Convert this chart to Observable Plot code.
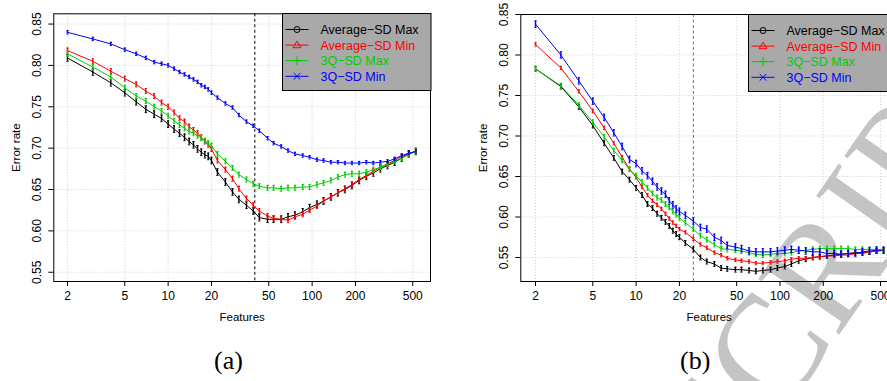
<!DOCTYPE html>
<html><head><meta charset="utf-8">
<script src="https://cdn.jsdelivr.net/npm/d3@7"></script>
<script src="https://cdn.jsdelivr.net/npm/@observablehq/plot@0.6"></script>
<style>
html,body{margin:0;padding:0;}
body{width:887px;height:381px;overflow:hidden;background:#fff;position:relative;font-family:"Liberation Sans",Arial,sans-serif;}
.panel{position:absolute;top:0;}
.lbl{position:absolute;font-family:"Liberation Serif",serif;font-size:26px;line-height:1;color:#000;}
.legend{position:absolute;overflow:visible;}
#wm{position:absolute;left:0;top:0;}
</style></head>
<body>
<svg id="wm" width="887" height="381"><text x="731" y="489" transform="rotate(-55 731 489)" font-family="Liberation Serif" font-size="150" fill="#c4c4c4">SCRIPT</text></svg>
<div id="pa" class="panel" style="left:0px;width:440px"></div>
<div id="pb" class="panel" style="left:440px;width:470px"></div>
<div class="lbl" style="left:214px;top:348px">(a)</div>
<div class="lbl" style="left:680px;top:348px">(b)</div>
<script>
const features = [2,3,4,5,6,7,8,9,10,11,12,13,14,15,16,17,18,19,20,22,25,28,31,35,39,43,49,54,61,68,76,86,96,108,120,135,151,169,189,212,238,266,298,334,374,419,469,525];
const xTicks = [2,5,10,20,50,100,200,500];
const yTicks = [0.55,0.60,0.65,0.70,0.75,0.80,0.85];
const seriesNames = ["Average\u2212SD Max","Average\u2212SD Min","3Q\u2212SD Max","3Q\u2212SD Min"];

// Panel (a)
const aAvgMax = [0.809,0.792,0.779,0.767,0.756,0.747,0.741,0.736,0.729,0.723,0.718,0.713,0.708,0.704,0.699,0.695,0.692,0.690,0.685,
 0.671,0.659,0.647,0.638,0.631,0.624,0.616,0.614,0.614,0.614,0.617,0.619,0.623,0.628,0.632,0.636,0.641,0.646,0.650,0.655,0.661,0.666,0.670,0.675,0.679,0.683,0.688,0.693,0.696];
const aAvgMin = [0.818,0.805,0.793,0.784,0.777,0.769,0.763,0.755,0.750,0.743,0.736,0.732,0.726,0.722,0.718,0.713,0.708,0.704,0.699,
 0.685,0.674,0.663,0.651,0.639,0.631,0.624,0.618,0.615,0.614,0.613,0.617,0.620,0.625,0.630,0.636,0.641,0.646,0.651,0.656,0.662,0.667,0.672,0.677,0.681,0.685,0.690,0.693,0.696];
const a3QMax = [0.814,0.798,0.786,0.773,0.763,0.757,0.750,0.745,0.739,0.733,0.728,0.724,0.720,0.718,0.715,0.712,0.709,0.706,0.703,
 0.693,0.684,0.676,0.668,0.662,0.657,0.654,0.652,0.652,0.651,0.652,0.652,0.653,0.653,0.656,0.658,0.661,0.665,0.668,0.669,0.669,0.671,0.674,0.677,0.680,0.684,0.688,0.692,0.696];
const a3QMin = [0.840,0.832,0.826,0.819,0.814,0.809,0.804,0.802,0.800,0.796,0.792,0.789,0.786,0.783,0.780,0.776,0.774,0.771,0.767,
 0.761,0.754,0.749,0.740,0.732,0.727,0.721,0.712,0.706,0.702,0.697,0.693,0.691,0.689,0.686,0.685,0.683,0.683,0.682,0.682,0.682,0.683,0.682,0.683,0.684,0.687,0.691,0.694,0.696];
const aErr = [0.004,0.003,0.003,0.002];
const aSelected = 40;

// Panel (b)
const bAvgMax = [0.783,0.761,0.736,0.713,0.691,0.673,0.656,0.646,0.636,0.627,0.616,0.611,0.604,0.599,0.594,0.589,0.583,0.579,0.575,
 0.568,0.560,0.550,0.545,0.542,0.537,0.536,0.535,0.535,0.534,0.533,0.534,0.535,0.537,0.539,0.542,0.546,0.548,0.550,0.551,0.552,0.553,0.554,0.555,0.556,0.556,0.557,0.558,0.559];
const bAvgMin = [0.813,0.784,0.755,0.731,0.710,0.691,0.674,0.659,0.649,0.637,0.627,0.620,0.615,0.610,0.604,0.598,0.593,0.589,0.585,
 0.581,0.573,0.566,0.562,0.556,0.553,0.549,0.547,0.546,0.545,0.543,0.543,0.544,0.545,0.546,0.548,0.549,0.549,0.550,0.551,0.552,0.552,0.553,0.553,0.555,0.555,0.557,0.558,0.559];
const b3QMax = [0.783,0.762,0.738,0.717,0.699,0.682,0.670,0.659,0.651,0.643,0.636,0.629,0.624,0.621,0.616,0.612,0.607,0.603,0.599,
 0.593,0.585,0.577,0.572,0.566,0.561,0.560,0.559,0.558,0.556,0.554,0.553,0.554,0.555,0.555,0.556,0.558,0.559,0.560,0.561,0.561,0.561,0.561,0.561,0.560,0.560,0.560,0.560,0.559];
const b3QMin = [0.838,0.800,0.768,0.743,0.723,0.704,0.687,0.671,0.666,0.657,0.651,0.644,0.637,0.632,0.628,0.620,0.615,0.610,0.607,
 0.602,0.595,0.587,0.585,0.575,0.571,0.565,0.563,0.561,0.558,0.557,0.557,0.557,0.558,0.559,0.560,0.559,0.558,0.557,0.557,0.555,0.555,0.554,0.555,0.555,0.557,0.558,0.559,0.559];
const bErr = [0.003,0.002,0.003,0.004];
const bSelected = 25;

const colors = ["#000000","#ff0000","#00cd00","#0000ff"];

function makePanel({series, errs, selected, dashColor, width, ml, mr, xDomain, yDomain}) {
  const marks = [
    Plot.gridX({ticks: xTicks, stroke: "#cfcfcf", strokeOpacity: 1, strokeDasharray: "1,2"}),
    Plot.gridY({ticks: yTicks, stroke: "#cfcfcf", strokeOpacity: 1, strokeDasharray: "1,2"}),
    Plot.ruleX([selected], {stroke: dashColor, strokeDasharray: "3,2.5", strokeWidth: 1})
  ];
  series.forEach((ys, i) => {
    const rows = features.map((x, j) => ({x, y: ys[j], e: errs[i]}));
    const c = colors[i];
    marks.push(Plot.line(rows, {x: "x", y: "y", stroke: c, strokeWidth: 1}));
    marks.push(Plot.ruleX(rows, {x: "x", y1: d => d.y - d.e, y2: d => d.y + d.e, stroke: c, strokeWidth: 1.4}));
    marks.push(Plot.link(rows, {x1: d => d.x / 1.018, x2: d => d.x * 1.018, y1: d => d.y + d.e, y2: d => d.y + d.e, stroke: c, strokeWidth: 1}));
    marks.push(Plot.link(rows, {x1: d => d.x / 1.018, x2: d => d.x * 1.018, y1: d => d.y - d.e, y2: d => d.y - d.e, stroke: c, strokeWidth: 1}));
  });
  marks.push(Plot.frame({stroke: "#000", strokeWidth: 1}));
  marks.push(Plot.axisX({ticks: xTicks, tickSize: 5, tickFormat: () => "", label: null}));
  marks.push(Plot.axisY({ticks: yTicks, tickSize: 5, tickFormat: () => "", label: null}));
  marks.push(Plot.text(xTicks, {x: d => d, text: d => String(d), frameAnchor: "bottom", dy: 15, lineAnchor: "middle", fontSize: 12, fill: "#000"}));
  marks.push(Plot.text(yTicks, {y: d => d, text: d => d.toFixed(2), frameAnchor: "left", dx: -16.5, rotate: -90, textAnchor: "middle", lineAnchor: "middle", fontSize: 12, fill: "#000"}));
  marks.push(Plot.text(["Features"], {text: d => d, frameAnchor: "bottom", dy: 36, lineAnchor: "middle", fontSize: 11.5, fill: "#000"}));
  marks.push(Plot.text(["Error rate"], {text: d => d, frameAnchor: "left", dx: -37, rotate: -90, textAnchor: "middle", lineAnchor: "middle", fontSize: 11.5, fill: "#000"}));
  return Plot.plot({
    width, height: 330,
    marginLeft: ml, marginRight: mr, marginTop: yDomain.top, marginBottom: 330 - 281,
    x: {type: "log", domain: xDomain},
    y: {domain: yDomain.d},
    style: {background: "transparent", maxWidth: "none", overflow: "visible", fontFamily: "'Liberation Sans', Arial, sans-serif", color: "#000"},
    marks
  });
}

document.getElementById("pa").appendChild(makePanel({
  series: [aAvgMax, aAvgMin, a3QMax, a3QMin], errs: aErr, selected: aSelected, dashColor: "#000",
  width: 440, ml: 53.3, mr: 10, xDomain: [1.607, 664], yDomain: {top: 13.3, d: [0.5388, 0.8624]}
}));
document.getElementById("pb").appendChild(makePanel({
  series: [bAvgMax, bAvgMin, b3QMax, b3QMin], errs: bErr, selected: bSelected, dashColor: "#707070",
  width: 470, ml: 80.3, mr: 13, xDomain: [1.58, 656], yDomain: {top: 14, d: [0.5204, 0.85]}
}));

function legend(left, top) {
  const svg = d3.select("body").append("svg").attr("class", "legend")
    .style("left", left + "px").style("top", top + "px").attr("width", 150).attr("height", 79);
  svg.append("rect").attr("x", 0.5).attr("y", 0.5).attr("width", 148.5).attr("height", 77)
    .attr("fill", "#a9a9a9").attr("stroke", "#000");
  seriesNames.forEach((name, i) => {
    const y = 16.5 + i * 15.6, c = colors[i], cx = 15;
    svg.append("line").attr("x1", 3.5).attr("x2", 26.5).attr("y1", y).attr("y2", y).attr("stroke", c);
    if (i === 0) svg.append("circle").attr("cx", cx).attr("cy", y).attr("r", 3).attr("fill", "none").attr("stroke", c);
    if (i === 1) svg.append("path").attr("d", `M${cx},${y-4}L${cx+4},${y+2.6}L${cx-4},${y+2.6}Z`).attr("fill", "none").attr("stroke", c);
    if (i === 2) svg.append("path").attr("d", `M${cx-4.5},${y}H${cx+4.5}M${cx},${y-4.5}V${y+4.5}`).attr("stroke", c);
    if (i === 3) svg.append("path").attr("d", `M${cx-3.3},${y-3.3}L${cx+3.3},${y+3.3}M${cx-3.3},${y+3.3}L${cx+3.3},${y-3.3}`).attr("stroke", c);
    svg.append("text").attr("x", 38.5).attr("y", y).attr("dy", "0.36em").attr("fill", c)
      .attr("font-size", 12.5).attr("font-family", "'Liberation Sans', Arial, sans-serif").text(name);
  });
}
legend(281.7, 13.3);
legend(748.3, 14);
</script>
</body></html>
